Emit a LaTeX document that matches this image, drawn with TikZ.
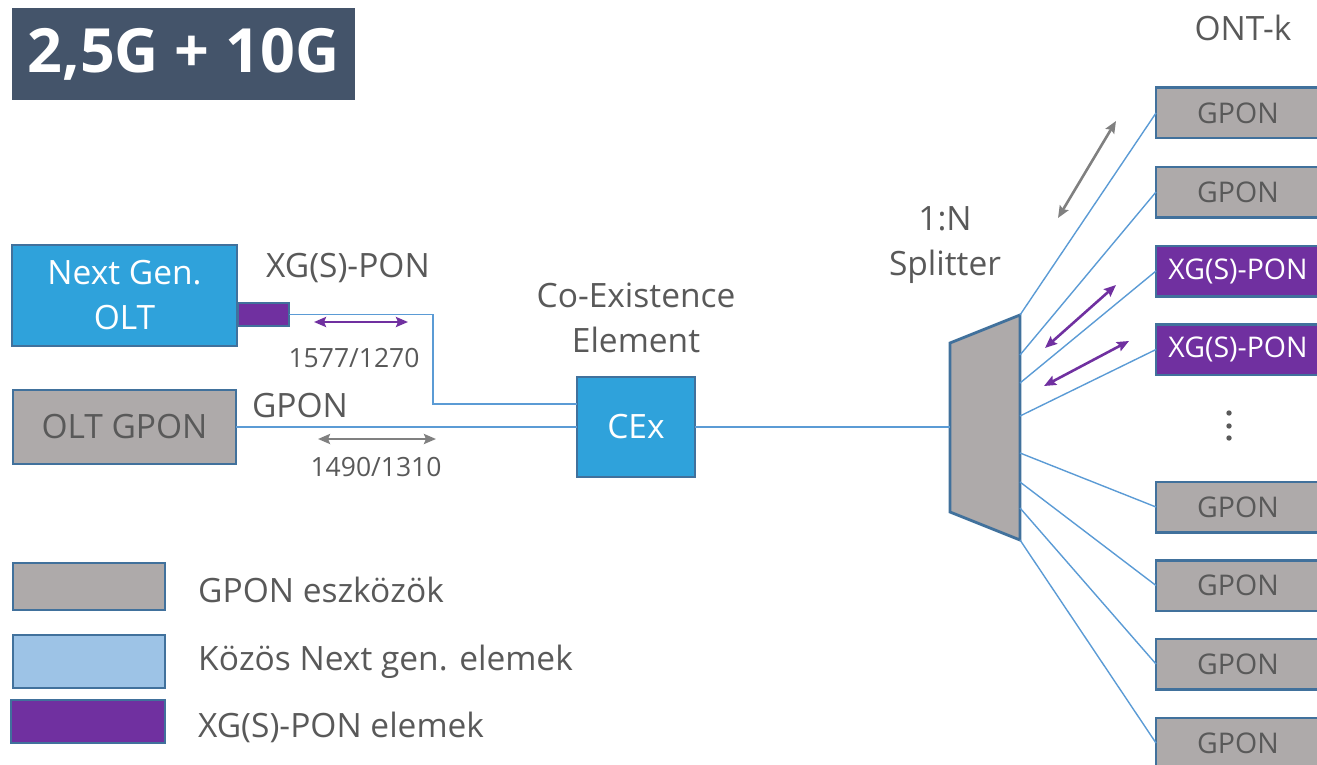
\documentclass[tikz,border=0pt]{standalone}
\usepackage{fontspec}
\setmainfont{Open Sans}
\usetikzlibrary{arrows.meta}

\definecolor{titlebg}{HTML}{44546A}
\definecolor{gpongray}{HTML}{AEAAAA}
\definecolor{ngblue}{HTML}{2FA2DB}
\definecolor{lightblue}{HTML}{9DC3E6}
\definecolor{xgpurple}{HTML}{7030A0}
\definecolor{edgeblue}{HTML}{41719C}
\definecolor{fiberblue}{HTML}{5B9BD5}
\definecolor{txtgray}{HTML}{595959}
\definecolor{arrowgray}{HTML}{808080}

\newcommand\bigtxt{\fontsize{33.5}{45}\selectfont}
\newcommand\boxtxt{\fontsize{33.5}{45}\selectfont}
\newcommand\onttxt{\fontsize{28.5}{30}\selectfont}
\newcommand\smalltxt{\fontsize{26.5}{28}\selectfont}

\tikzset{
  box/.style={draw=edgeblue, line width=2.5, inner sep=0, outer sep=0, align=center},
  gponbox/.style={box, fill=gpongray, text=txtgray},
  ngbox/.style={box, fill=ngblue, text=white},
  xgbox/.style={box, fill=xgpurple, text=white},
  lbbox/.style={box, fill=lightblue},
  ont/.style={minimum width=164, minimum height=50.5, font=\onttxt},
  label/.style={text=txtgray, font=\bigtxt, inner sep=0, align=center},
  fiber/.style={draw=fiberblue, line width=1.4},
  wave/.style={line width=2.6, {Stealth[length=12,width=10,inset=2]}-{Stealth[length=12,width=10,inset=2]}},
}

\begin{document}
\begin{tikzpicture}[x=1pt, y=-1pt]
\useasboundingbox (0,0) rectangle (1317,765);

% title
\node[fill=titlebg, text=white, minimum width=343, minimum height=92, inner sep=0,
      font=\fontsize{61}{62}\selectfont\bfseries] (title) at (183.5,54) {2,5G + 10G};

% head-end equipment
\node[ngbox, minimum width=225, minimum height=101, font=\boxtxt] (ngolt) at (124.5,295.5) {\raisebox{-2pt}{Next Gen.}\\\raisebox{-2pt}{OLT}};
\node[xgbox, line width=2, minimum width=51, minimum height=23] (xport) at (263.5,314.5) {};
\node[gponbox, minimum width=223, minimum height=74, font=\boxtxt] (oltg) at (124.5,427) {OLT GPON};
\node[ngbox, minimum width=118, minimum height=100, font=\boxtxt] (cex) at (636,427) {CEx};

\node[label] (xglbl) at (348,268) {XG(S)-PON};
\node[label] (gplbl) at (300,406) {GPON};
\node[label, font=\smalltxt] (xgwl) at (354,358) {1577/1270};
\node[label, font=\smalltxt] (gpwl) at (376,467) {1490/1310};
\node[label] (cexlbl) at (636,317.5) {Co-Existence\\Element};
\node[label] (splbl) at (945,245) {1:N\\Splitter};
\node[label] (ontlbl) at (1243,28) {ONT-k};

% splitter
\coordinate (slt) at (950,343);
\coordinate (slb) at (950,512);
\coordinate (srt) at (1020,315);
\coordinate (srb) at (1020,540);
\coordinate (sin) at (950,427);
\draw[edgeblue, line width=2.8, line join=miter, fill=gpongray] (slt) -- (srt) -- (srb) -- (slb) -- cycle;

% feeder fibres
\coordinate (bend) at (433,404);
\draw[fiber] (xport.east) -| (bend) -- (bend -| cex.west);
\draw[fiber] (oltg.east) -- (oltg.east -| cex.west);
\draw[fiber] (cex.east) -- (sin);

% ONT boxes
\node[gponbox, ont] (o1) at (1238,113)   {GPON};
\node[gponbox, ont] (o2) at (1238,192)   {GPON};
\node[xgbox, ont]   (o3) at (1238,271)   {XG(S)-PON};
\node[xgbox, ont]   (o4) at (1238,349.5) {XG(S)-PON};
\node[gponbox, ont] (o5) at (1238,507)   {GPON};
\node[gponbox, ont] (o6) at (1238,585.5) {GPON};
\node[gponbox, ont] (o7) at (1238,664)   {GPON};
\node[gponbox, ont] (o8) at (1238,743)   {GPON};

\foreach \y in {413,426,438} \fill[txtgray] (1229,\y) circle (2.7);

% drop fibres
\foreach \i/\y in {1/315,2/355,3/383,4/416,5/453,6/482,7/508,8/540}{
  \coordinate (s\i) at (1020,\y);
  \draw[fiber] (s\i) -- (o\i.west);
}

% wavelength arrows
\coordinate (xa1) at (314,322);  \coordinate (xa2) at (408,322);
\coordinate (ga1) at (318,439);  \coordinate (ga2) at (436,439);
\coordinate (da1) at (1058,218); \coordinate (da2) at (1116,121);
\coordinate (pa1) at (1045,348); \coordinate (pa2) at (1116,285);
\coordinate (pb1) at (1044,386); \coordinate (pb2) at (1129,341);
\draw[wave, xgpurple] (xa1) -- (xa2);
\draw[wave, arrowgray] (ga1) -- (ga2);
\draw[wave, arrowgray] (da1) -- (da2);
\draw[wave, xgpurple] (pa1) -- (pa2);
\draw[wave, xgpurple] (pb1) -- (pb2);

% legend
\node[gponbox, minimum width=152, minimum height=47] (lg1) at (89,586.5) {};
\node[lbbox,   minimum width=152, minimum height=53] (lg2) at (89,661.5) {};
\node[xgbox,   minimum width=154, minimum height=43] (lg3) at (88,721.5) {};
\node[label, anchor=west] (lt1) at (198,590) {GPON eszközök};
\node[label, anchor=west] (lt2) at (198,662) {Közös Next gen. elemek};
\node[label, anchor=west] (lt3) at (198,727) {XG(S)-PON elemek};
\end{tikzpicture}
\end{document}
